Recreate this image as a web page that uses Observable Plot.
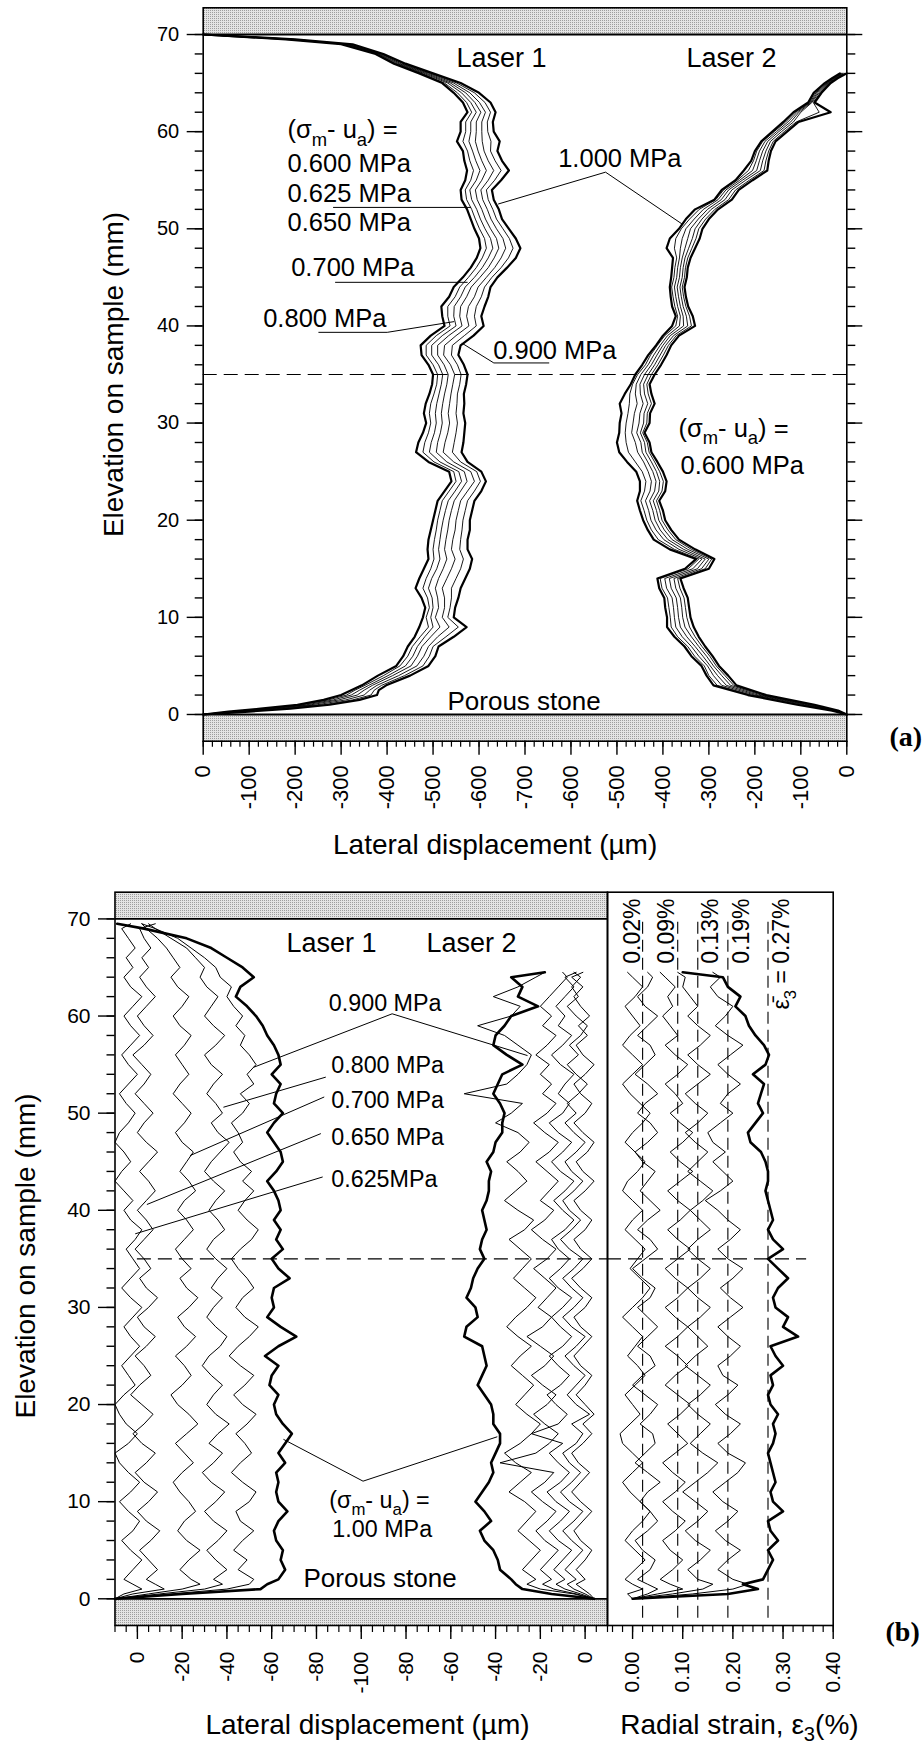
<!DOCTYPE html>
<html>
<head>
<meta charset="utf-8">
<script src="https://cdn.jsdelivr.net/npm/d3@7"></script>
<script src="https://cdn.jsdelivr.net/npm/@observablehq/plot@0.6"></script>
<style>
html, body { margin: 0; padding: 0; background: #fff; }
#chart { position: relative; width: 924px; height: 1748px; background: #fff; overflow: hidden; }
#chart > svg { position: absolute; }
</style>
</head>
<body>
<svg width="0" height="0" style="position:absolute">
  <defs>
    <pattern id="stone" patternUnits="userSpaceOnUse" width="2" height="2">
      <rect width="2" height="2" fill="#e4e4e4"></rect>
      <rect width="1" height="1" fill="#9e9e9e"></rect>
    </pattern>
  </defs>
</svg>
<div id="chart"></div>
<script>
const FONT = "'Liberation Sans', Arial, Helvetica, sans-serif";
const SERIF = "'Liberation Serif', 'Times New Roman', serif";

// ================= DATA =================
// ---- Panel (a): lateral displacement (µm) vs elevation (mm) ----
const pressuresA = ["0.600", "0.625", "0.650", "0.700", "0.800", "0.900", "1.000"];
const elevA1 = [0,0.3,0.6,1,1.5,2,2.5,3,4,5,6,7,8,9,10,11,12,13,14,15,16,17,18,19,20,21,22,23,24,25,26,27,28,29,30,31,32,33,34,35,36,37,38,39,40,41,42,43,44,45,46,47,48,49,50,51,52,53,54,55,56,57,58,59,60,61,62,63,64,65,66,67,68,69,69.5,70];
const a1_0600 = [0,-55,-125,-205,-262,-300,-322,-345,-380,-420,-435,-445,-460,-470,-478,-483,-475,-462,-470,-480,-490,-488,-490,-495,-500,-505,-510,-525,-540,-535,-490,-463,-468,-478,-485,-480,-484,-492,-498,-500,-490,-475,-473,-495,-525,-520,-518,-535,-545,-565,-582,-595,-603,-600,-590,-582,-574,-562,-560,-570,-574,-568,-565,-552,-560,-560,-575,-565,-545,-520,-470,-415,-375,-300,-180,0];
const a1_0625 = [0,-60,-132,-215,-272,-312,-330,-352,-392,-428,-445,-455,-472,-490,-485,-492,-488,-478,-485,-495,-502,-500,-503,-507,-510,-515,-520,-535,-550,-545,-502,-478,-482,-490,-495,-492,-495,-502,-508,-510,-500,-485,-485,-507,-537,-532,-532,-548,-558,-577,-594,-607,-616,-612,-601,-592,-584,-573,-570,-582,-588,-580,-575,-565,-571,-571,-584,-573,-553,-525,-475,-418,-378,-305,-185,0];
const a1_0650 = [0,-65,-140,-225,-283,-322,-340,-360,-402,-440,-456,-466,-482,-500,-495,-500,-498,-490,-497,-508,-515,-512,-515,-518,-522,-527,-533,-548,-562,-556,-515,-492,-496,-503,-507,-505,-508,-513,-518,-521,-512,-497,-497,-520,-550,-545,-546,-560,-570,-590,-607,-620,-630,-625,-613,-603,-595,-584,-580,-594,-602,-593,-586,-578,-582,-582,-594,-582,-562,-532,-480,-422,-381,-310,-190,0];
const a1_0700 = [0,-70,-150,-235,-295,-335,-350,-368,-412,-452,-466,-476,-495,-515,-505,-512,-510,-505,-512,-522,-530,-525,-528,-532,-535,-540,-546,-560,-574,-568,-530,-507,-510,-516,-520,-518,-521,-525,-530,-533,-524,-510,-510,-534,-563,-558,-560,-573,-583,-602,-620,-633,-643,-638,-625,-614,-606,-596,-592,-606,-616,-606,-598,-592,-594,-594,-604,-591,-571,-538,-485,-426,-384,-312,-192,0];
const a1_0800 = [0,-80,-160,-248,-310,-350,-362,-378,-425,-465,-480,-490,-510,-535,-520,-525,-525,-520,-530,-540,-548,-540,-543,-548,-550,-555,-560,-575,-590,-582,-545,-522,-526,-532,-536,-533,-536,-539,-543,-547,-538,-523,-525,-550,-578,-573,-577,-590,-598,-616,-634,-648,-658,-652,-638,-626,-618,-608,-604,-620,-632,-620,-611,-607,-606,-606,-614,-601,-580,-545,-490,-430,-387,-315,-195,0];
const a1_0900 = [0,-90,-175,-262,-325,-365,-372,-388,-438,-478,-492,-500,-528,-555,-532,-537,-540,-540,-550,-560,-566,-558,-560,-563,-565,-570,-575,-590,-603,-595,-560,-542,-546,-550,-553,-550,-552,-553,-558,-561,-553,-540,-542,-568,-594,-590,-594,-605,-612,-628,-648,-664,-674,-666,-652,-638,-630,-620,-616,-634,-648,-635,-625,-626,-619,-618,-625,-613,-590,-552,-495,-435,-390,-320,-198,0];
const a1_1000 = [0,-100,-190,-275,-340,-378,-382,-398,-450,-490,-505,-512,-545,-573,-545,-548,-555,-560,-570,-580,-585,-575,-575,-580,-580,-585,-590,-605,-615,-605,-575,-562,-566,-568,-570,-566,-568,-567,-572,-575,-567,-555,-560,-588,-610,-605,-612,-620,-625,-640,-661,-680,-690,-680,-665,-650,-643,-632,-628,-648,-665,-650,-640,-645,-632,-630,-636,-625,-600,-560,-500,-440,-392,-325,-200,0];

const elevA2 = [0,0.4,1,2,3,4,5,6,7,8,9,10,11,12,13,14,15,16,17,18,19,20,21,22,23,24,25,26,27,28,29,30,31,32,33,34,35,36,37,38,39,40,41,42,43,44,45,46,47,48,49,50,51,52,53,54,55,56,57,58,59,60,61,62,63,64,65,65.5,66];
const a2_0600 = [0,-19,-70,-175,-240,-258,-278,-292,-308,-322,-333,-340,-343,-346,-355,-362,-300,-288,-330,-365,-382,-395,-400,-408,-395,-392,-400,-412,-425,-429,-440,-429,-428,-418,-425,-429,-418,-404,-392,-382,-365,-330,-335,-345,-350,-353,-348,-346,-340,-330,-320,-314,-300,-280,-250,-235,-205,-173,-170,-165,-155,-130,-105,-35,-70,-55,-35,-20,0];
const a2_0625 = [0,-21,-75,-180,-246,-265,-284,-298,-315,-330,-342,-348,-351,-354,-363,-368,-308,-294,-338,-372,-389,-402,-407,-414,-402,-399,-407,-418,-430,-434,-444,-435,-434,-425,-432,-435,-425,-411,-399,-388,-371,-338,-342,-350,-355,-358,-353,-351,-346,-337,-328,-322,-307,-287,-257,-242,-212,-180,-176,-170,-160,-136,-110,-60,-73,-58,-37,-22,-3];
const a2_0650 = [0,-23,-80,-186,-253,-272,-290,-305,-322,-338,-352,-357,-359,-362,-372,-376,-316,-300,-346,-380,-397,-409,-414,-421,-409,-407,-414,-425,-437,-440,-449,-442,-441,-433,-440,-442,-432,-418,-406,-394,-377,-346,-349,-356,-360,-363,-358,-356,-352,-344,-336,-330,-315,-295,-265,-250,-220,-188,-183,-176,-166,-142,-116,-100,-76,-61,-39,-24,-5];
const a2_0700 = [0,-25,-86,-193,-262,-281,-297,-313,-330,-348,-362,-366,-368,-371,-382,-386,-325,-308,-355,-389,-406,-417,-422,-429,-418,-415,-422,-433,-445,-448,-457,-452,-450,-443,-449,-450,-440,-425,-413,-400,-384,-355,-356,-362,-366,-369,-364,-362,-358,-352,-346,-340,-323,-303,-273,-257,-227,-196,-190,-183,-172,-148,-122,-104,-78,-64,-41,-26,-8];
const a2_0800 = [0,-27,-92,-200,-272,-290,-303,-322,-338,-358,-372,-375,-377,-380,-392,-396,-335,-315,-365,-398,-415,-426,-431,-438,-428,-425,-432,-442,-455,-460,-468,-465,-462,-456,-460,-458,-448,-432,-420,-406,-390,-364,-362,-368,-372,-375,-370,-368,-364,-362,-358,-350,-332,-312,-280,-263,-233,-205,-197,-190,-178,-153,-128,-108,-80,-67,-43,-28,-10];
const a2_0900 = [0,-30,-100,-208,-282,-300,-310,-331,-346,-368,-382,-384,-387,-390,-402,-406,-345,-322,-375,-410,-425,-435,-441,-448,-440,-437,-445,-460,-475,-480,-482,-480,-476,-473,-472,-466,-455,-438,-427,-412,-396,-372,-368,-374,-378,-381,-376,-374,-370,-375,-372,-360,-342,-321,-285,-268,-238,-214,-203,-196,-183,-158,-133,-112,-82,-70,-46,-30,-12];
const a2_1000 = [0,-32,-108,-215,-290,-305,-316,-338,-353,-375,-391,-391,-395,-397,-408,-412,-352,-328,-385,-420,-433,-443,-450,-456,-450,-450,-458,-478,-495,-500,-495,-494,-490,-494,-483,-470,-460,-445,-432,-415,-400,-380,-372,-380,-383,-385,-382,-380,-378,-392,-385,-365,-350,-330,-288,-272,-242,-224,-208,-200,-186,-162,-138,-116,-84,-72,-48,-32,-15];

// ---- Panel (b): lateral displacement (µm) and radial strain (%) ----
const pressuresB = ["0.625", "0.650", "0.700", "0.800", "0.900", "1.00"];
const elevB1 = [0,0.5,1,1.5,2,3,4,5,6,7,8,9,10,11,12,13,14,15,16,17,18,19,20,21,22,23,24,25,26,27,28,29,30,31,32,33,34,35,36,37,38,39,40,41,42,43,44,45,46,47,48,49,50,51,52,53,54,55,56,57,58,59,60,61,62,63,64,65,66,67,68,69,69.5];
const b1_0625 = [10,6,-2,2,6,2,-2,3,7,2,-1,4,8,3,-1,4,8,10,4,0,5,8,10,6,1,4,7,3,-1,3,6,2,-2,3,7,3,-1,2,5,1,-2,3,6,2,6,10,7,3,6,10,8,4,1,5,8,4,0,4,7,3,-1,3,6,2,-2,3,6,2,5,1,4,7,3];
const b1_0650 = [10,2,-12,-8,-4,-9,-5,-1,-6,-10,-4,0,-5,-9,-3,1,-4,-8,-2,2,-3,-7,-2,3,-1,-6,-3,1,-4,-8,-3,0,-5,-9,-4,-1,-6,-3,1,-3,-7,-4,0,-4,-8,-5,-1,-5,-9,-4,0,-3,-7,-3,1,-3,-6,-2,2,-3,-7,-3,0,-4,-8,-4,-1,-5,-2,-6,-3,-1,-8];
const b1_0700 = [10,-5,-20,-28,-24,-19,-23,-28,-22,-18,-21,-26,-23,-19,-16,-20,-25,-21,-17,-22,-27,-23,-18,-15,-20,-24,-21,-17,-22,-26,-21,-18,-23,-27,-22,-19,-24,-20,-17,-21,-25,-22,-18,-21,-26,-23,-19,-22,-25,-20,-17,-21,-24,-20,-16,-19,-23,-20,-17,-21,-24,-19,-16,-20,-23,-18,-15,-19,-16,-13,-9,-4,-2];
const b1_0800 = [10,-10,-30,-38,-34,-40,-35,-31,-36,-40,-34,-30,-35,-39,-33,-29,-34,-38,-32,-36,-41,-35,-31,-34,-38,-33,-29,-32,-37,-40,-35,-31,-34,-38,-33,-36,-40,-35,-31,-34,-39,-36,-32,-35,-39,-34,-30,-33,-37,-41,-36,-33,-38,-35,-31,-34,-38,-33,-30,-35,-39,-34,-30,-33,-36,-31,-28,-30,-26,-22,-15,-8,-5];
const b1_0900 = [10,-15,-40,-50,-52,-45,-49,-43,-47,-52,-46,-44,-50,-53,-47,-42,-46,-51,-48,-44,-49,-53,-47,-43,-48,-52,-46,-41,-45,-50,-54,-48,-44,-47,-52,-49,-45,-42,-46,-51,-54,-49,-45,-48,-52,-47,-51,-46,-43,-47,-45,-42,-47,-50,-46,-52,-49,-53,-50,-46,-48,-44,-47,-43,-40,-42,-37,-35,-30,-24,-18,-8,-2];
const b1_1000 = [10,-20,-55,-58,-63,-66,-64,-65,-62,-61,-63,-67,-63,-62,-63,-62,-66,-63,-66,-69,-65,-62,-61,-63,-59,-60,-63,-57,-63,-71,-64,-58,-61,-60,-61,-68,-63,-60,-65,-62,-64,-61,-64,-63,-61,-58,-62,-65,-64,-61,-58,-61,-65,-61,-62,-64,-60,-64,-63,-61,-58,-56,-53,-49,-44,-46,-52,-47,-40,-33,-22,-3,9];

const elevB2 = [0,0.5,1,1.5,2,3,4,5,6,7,8,9,10,11,12,13,14,15,16,17,18,19,20,21,22,23,24,25,26,27,28,29,30,31,32,33,34,35,36,37,38,39,40,41,42,43,44,45,46,47,48,49,50,51,52,53,54,55,56,57,58,59,60,61,62,63,64,64.5];
const b2_0625 = [4,2,-1,-4,0,-4,0,3,-2,-5,-1,3,-2,-6,-2,2,-3,-6,-1,3,-1,4,0,-4,0,3,-2,-5,-1,3,-2,-5,0,3,-2,-6,-1,3,-2,-5,0,3,-2,-5,0,4,-1,-4,1,4,-1,-5,0,3,-2,-5,0,4,-1,-4,1,-3,2,-2,-5,-1,-6,-1];
const b2_0650 = [4,0,-5,-8,-4,-9,-5,-1,-6,-10,-5,-1,-7,-11,-6,-2,-7,-10,-4,-1,-6,2,-4,-8,-4,0,-5,-9,-4,0,-6,-10,-5,-1,-6,-10,-5,-1,-7,-11,-6,-2,-7,-10,-5,-1,-6,-9,-4,0,-5,-9,-4,-8,-3,1,-4,-8,-3,-7,-2,1,-4,-8,-3,-6,-2,-5];
const b2_0700 = [4,-2,-9,-13,-9,-14,-10,-6,-12,-16,-11,-7,-13,-17,-11,-7,-12,-16,-10,-24,-12,-8,-13,-17,-11,-7,-12,-16,-10,-6,-11,-15,-10,-6,-12,-16,-11,-7,-12,-15,-9,-5,-10,-14,-9,-5,-11,-15,-10,-6,-12,-16,-10,-7,-12,-9,-5,-11,-15,-10,-6,-12,-9,-13,-9,-5,-9,-4];
const b2_0800 = [4,-4,-14,-19,-15,-20,-16,-12,-18,-22,-17,-13,-19,-24,-18,-14,-38,-22,-16,-12,-18,-23,-17,-13,-19,-24,-18,-14,-20,-26,-19,-15,-21,-17,-13,-18,-23,-17,-13,-19,-24,-18,-14,-20,-16,-12,-17,-22,-16,-12,-18,-23,-17,-13,-19,-15,-20,-16,-22,-17,-13,-19,-15,-20,-16,-12,-8,-10];
const b2_0900 = [4,-5,-20,-26,-22,-28,-24,-20,-25,-30,-26,-22,-27,-34,-29,-24,-31,-36,-29,-24,-20,-26,-31,-27,-23,-28,-33,-29,-24,-30,-35,-31,-26,-22,-27,-32,-28,-24,-29,-34,-27,-23,-30,-36,-31,-26,-30,-35,-29,-25,-30,-40,-33,-28,-54,-35,-30,-26,-24,-30,-36,-48,-33,-29,-41,-30,-22,-18];
const b2_1000 = [4,-15,-28,-31,-33,-38,-39,-41,-45,-47,-42,-45,-49,-46,-43,-41,-42,-40,-38,-38,-41,-41,-42,-45,-48,-46,-44,-45,-46,-54,-53,-48,-49,-53,-51,-50,-48,-45,-47,-46,-44,-45,-46,-44,-43,-43,-42,-44,-41,-40,-37,-37,-36,-38,-41,-39,-37,-28,-35,-41,-40,-36,-33,-21,-30,-28,-33,-18];

const strain_0625 = [0,-0.01,0.02,0.0,-0.015,0.005,0.025,0.005,-0.015,0.0,0.02,0.035,0.015,-0.005,-0.02,0.0,0.02,0.0,-0.02,-0.025,-0.005,0.015,0.0,-0.015,0.005,0.025,0.01,-0.01,0.005,0.02,0.0,-0.02,0.0,0.02,0.035,0.015,-0.005,0.01,0.025,0.005,-0.015,0.0,0.02,0.0,-0.02,-0.01,0.01,0.025,0.005,-0.015,0.0,0.02,0.035,0.015,-0.005,-0.02,0.0,0.02,0.0,-0.02,-0.005,0.015,0.0,-0.015,0.005,0.02,0.0,-0.01];
const strain_0650 = [0,0.03,0.05,0.03,0.01,0.035,0.045,0.02,0.005,0.03,0.05,0.035,0.015,0.03,0.055,0.03,0.005,0.025,0.045,0.04,0.015,0.035,0.05,0.025,0.0,0.02,0.045,0.035,0.01,0.03,0.05,0.03,0.01,0.035,0.045,0.02,0.0,0.025,0.05,0.035,0.01,0.03,0.055,0.035,0.015,0.03,0.045,0.02,0.005,0.03,0.05,0.035,0.01,0.025,0.05,0.03,0.005,0.025,0.045,0.035,0.01,0.03,0.05,0.025,0.01,0.03,0.04,0.03];
const strain_0700 = [0,0.05,0.1,0.075,0.055,0.08,0.1,0.075,0.06,0.085,0.105,0.08,0.06,0.085,0.105,0.08,0.06,0.085,0.11,0.09,0.07,0.095,0.115,0.09,0.065,0.085,0.11,0.09,0.065,0.09,0.11,0.085,0.065,0.09,0.11,0.085,0.065,0.09,0.115,0.09,0.07,0.095,0.115,0.09,0.07,0.095,0.12,0.095,0.075,0.1,0.12,0.095,0.075,0.1,0.085,0.065,0.09,0.11,0.085,0.065,0.09,0.075,0.06,0.08,0.07,0.085,0.065,0.055];
const strain_0800 = [0,0.08,0.14,0.16,0.13,0.11,0.135,0.155,0.125,0.105,0.13,0.15,0.125,0.1,0.125,0.15,0.17,0.14,0.115,0.135,0.155,0.13,0.11,0.135,0.155,0.13,0.105,0.125,0.15,0.13,0.11,0.135,0.155,0.13,0.11,0.135,0.155,0.13,0.11,0.13,0.155,0.135,0.115,0.14,0.16,0.135,0.11,0.13,0.15,0.125,0.105,0.13,0.15,0.125,0.105,0.13,0.155,0.13,0.11,0.135,0.155,0.13,0.11,0.13,0.115,0.1,0.105,0.09];
const strain_0900 = [0,0.12,0.2,0.23,0.2,0.17,0.19,0.215,0.185,0.165,0.19,0.21,0.18,0.16,0.185,0.21,0.225,0.19,0.17,0.195,0.215,0.185,0.165,0.19,0.21,0.18,0.17,0.195,0.215,0.19,0.17,0.195,0.22,0.195,0.175,0.2,0.22,0.19,0.17,0.195,0.215,0.19,0.17,0.145,0.175,0.2,0.18,0.16,0.185,0.16,0.15,0.175,0.2,0.175,0.19,0.215,0.19,0.17,0.195,0.22,0.19,0.165,0.185,0.2,0.17,0.155,0.175,0.16];
const strain_1000 = [0,0.19,0.25,0.22,0.26,0.27,0.28,0.27,0.29,0.275,0.27,0.3,0.28,0.275,0.285,0.28,0.275,0.27,0.28,0.285,0.28,0.29,0.275,0.27,0.28,0.275,0.3,0.285,0.275,0.33,0.3,0.31,0.285,0.28,0.29,0.31,0.29,0.27,0.3,0.28,0.27,0.28,0.275,0.27,0.265,0.27,0.27,0.265,0.256,0.235,0.23,0.245,0.26,0.25,0.256,0.262,0.24,0.265,0.272,0.262,0.245,0.232,0.225,0.205,0.215,0.19,0.18,0.10];
const strainMeans = [0.02, 0.09, 0.13, 0.19, 0.27];

// ---- tick labels ----
const yTickLabels = [0, 10, 20, 30, 40, 50, 60, 70];
const xTickLabelsA = [0,-100,-200,-300,-400,-500,-600,-700,-600,-500,-400,-300,-200,-100,0];
const xTickLabelsB = [0,-20,-40,-60,-80,-100,-80,-60,-40,-20,0];
const strainTickLabels = ["0.00", "0.10", "0.20", "0.30", "0.40"];

// ---- annotations (text & leader lines, in data units) ----
const labelsA = [
  {t: "(σ_m- u_a) =", u: 183.4, e: 59.3},
  {t: "0.600 MPa", u: 183.4, e: 55.81},
  {t: "0.625 MPa", u: 183.4, e: 52.72},
  {t: "0.650 MPa", u: 183.4, e: 49.74},
  {t: "0.700 MPa", u: 191.4, e: 45.18},
  {t: "0.800 MPa", u: 130.5, e: 39.86},
  {t: "0.900 MPa", u: 630.8, e: 36.61},
  {t: "1.000 MPa", u: 772.2, e: 56.33},
  {t: "(σ_m- u_a) =", u: 1033.9, e: 28.6},
  {t: "0.600 MPa", u: 1038.3, e: 24.77}
];
const laserLabelsA = [{t: "Laser 1", u: 551, e: 66.62}, {t: "Laser 2", u: 1051.3, e: 66.62}];
const leadersA = [
  ["0.625", [[283.4, 52.2], [581.5, 52.2]]],
  ["1.000", [[642.4, 52.56], [875.2, 55.83], [1040.5, 50.53]]],
  ["0.700", [[287.8, 44.49], [574.3, 44.49]]],
  ["0.800", [[251.5, 39.34], [400.3, 39.34], [545.1, 40.44]]],
  ["0.900", [[563.4, 38.21], [632.2, 36.19], [751.8, 36.19]]]
];
const labelsB = [
  {t: "0.900 MPa", u: 85.5, e: 60.49},
  {t: "0.800 MPa", u: 86.6, e: 54.12},
  {t: "0.700 MPa", u: 86.6, e: 50.56},
  {t: "0.650 MPa", u: 86.6, e: 46.68},
  {t: "0.625MPa", u: 86.6, e: 42.39},
  {t: "(σ_m- u_a) =", u: 85.7, e: 9.3},
  {t: "1.00 MPa", u: 87.1, e: 6.38}
];
const laserLabelsB = [{t: "Laser 1", u: 66.6, e: 66.56}, {t: "Laser 2", u: 129.1, e: 66.56}];
const leadersB = [
  ["0.900", [[52.0, 54.73], [113.8, 60.23], [174.1, 55.94]]],
  ["0.800", [[38.6, 50.62], [84.0, 53.70]]],
  ["0.700", [[23.7, 45.65], [83.3, 51.65]]],
  ["0.650", [[4.4, 40.61], [81.8, 47.88]]],
  ["0.625", [[-0.8, 37.59], [82.6, 43.42]]],
  ["1.00", [[65.4, 16.40], [100.8, 12.11], [160.6, 16.67]]]
];
const strainLabels = [
  {t: "0.02%", s: 0.0},
  {t: "0.09%", s: 0.068},
  {t: "0.13%", s: 0.155},
  {t: "0.19%", s: 0.218},
  {t: "ε\u0304_3 = 0.27%", s: 0.298}
];

// ================= HELPERS =================
function buildRows(ids, elev, arrays, pos) {
  const rows = [];
  arrays.forEach((vals, k) => {
    const n = Math.min(elev.length, vals.length);
    for (let i = 0; i < n; i++) rows.push({id: ids[k], e: elev[i], u: pos(vals[i])});
  });
  return rows;
}
function leaderRows(list) {
  return list.flatMap(([id, pts]) => pts.map(([u, e]) => ({id, u, e})));
}
function subscripts(svg) {
  svg.querySelectorAll("text").forEach(t => {
    if (t.querySelector("tspan")) return;
    const s = t.textContent;
    if (!s.includes("_")) return;
    const fs = parseFloat(getComputedStyle(t).fontSize) || 20;
    t.textContent = "";
    const parts = s.split(/_(.)/);
    parts.forEach((p, i) => {
      if (!p) return;
      const ts = document.createElementNS("http://www.w3.org/2000/svg", "tspan");
      ts.textContent = p;
      if (i % 2 === 1) { ts.setAttribute("font-size", (fs * 0.72).toFixed(1)); ts.setAttribute("dy", (fs * 0.28).toFixed(1)); }
      else if (i > 0) { ts.setAttribute("dy", (-fs * 0.28).toFixed(1)); }
      t.appendChild(ts);
    });
  });
}
const blank = () => "";
const chart = document.getElementById("chart");

// ================= PANEL (a) =================
const thickA = new Set(["0.600", "1.000"]);
const rowsA = buildRows(pressuresA.map(p => "L1 " + p), elevA1,
    [a1_0600, a1_0625, a1_0650, a1_0700, a1_0800, a1_0900, a1_1000], d => -d)
  .concat(buildRows(pressuresA.map(p => "L2 " + p), elevA2,
    [a2_0600, a2_0625, a2_0650, a2_0700, a2_0800, a2_0900, a2_1000], d => 1400 + d));
const isThickA = r => thickA.has(r.id.slice(3));

const plotA = Plot.plot({
  width: 924, height: 880,
  marginLeft: 202.7, marginRight: 77.7, marginTop: 7.3, marginBottom: 139.3,
  x: {domain: [0, 1400], label: null},
  y: {domain: [-2.75, 72.75], label: null},
  style: {fontFamily: FONT, color: "#000", background: "transparent", overflow: "visible"},
  marks: [
    Plot.rect([{lo: 70, hi: 72.75}, {lo: -2.75, hi: 0}], {x1: 0, x2: 1400, y1: "lo", y2: "hi", fill: "url(#stone)"}),
    Plot.axisY(yTickLabels, {anchor: "left", tickSize: 16, tickPadding: 8, fontSize: 20, strokeWidth: 1.4, label: null}),
    Plot.axisY(d3.range(0, 71, 2), {anchor: "left", tickSize: 8, tickFormat: blank, strokeWidth: 1.4, label: null}),
    Plot.axisY(yTickLabels, {anchor: "right", tickSize: 15, tickFormat: blank, strokeWidth: 1.4, label: null}),
    Plot.axisY(d3.range(0, 71, 2), {anchor: "right", tickSize: 8, tickFormat: blank, strokeWidth: 1.4, label: null}),
    Plot.axisX(d3.range(0, 1401, 100), {anchor: "bottom", tickSize: 14, tickPadding: 10, tickRotate: -90, fontSize: 22,
      tickFormat: d => String(xTickLabelsA[Math.round(d / 100)]), strokeWidth: 1.4, label: null}),
    Plot.axisX(d3.range(0, 1401, 20), {anchor: "bottom", tickSize: 6, tickFormat: blank, strokeWidth: 1.2, label: null}),
    Plot.frame({strokeWidth: 1.6}),
    Plot.ruleY([0, 70], {strokeWidth: 1.8}),
    Plot.ruleY([35], {strokeWidth: 1.2, strokeDasharray: "14,7"}),
    Plot.line(rowsA.filter(r => !isThickA(r)), {x: "u", y: "e", z: "id", stroke: "#000", strokeWidth: 0.9, strokeLinejoin: "round"}),
    Plot.line(rowsA.filter(isThickA), {x: "u", y: "e", z: "id", stroke: "#000", strokeWidth: 2.2, strokeLinejoin: "round"}),
    Plot.line(leaderRows(leadersA), {x: "u", y: "e", z: "id", stroke: "#000", strokeWidth: 1}),
    Plot.text(labelsA, {x: "u", y: "e", text: "t", textAnchor: "start", lineAnchor: "bottom", fontSize: 25.5}),
    Plot.text(laserLabelsA, {x: "u", y: "e", text: "t", textAnchor: "start", lineAnchor: "bottom", fontSize: 27}),
    Plot.text(["Porous stone"], {x: 531.4, y: 0.48, textAnchor: "start", lineAnchor: "bottom", fontSize: 26}),
    Plot.text(["Lateral displacement (µm)"], {x: 635, frameAnchor: "bottom", dy: 112.3, lineAnchor: "bottom", fontSize: 28}),
    Plot.text(["Elevation on sample (mm)"], {y: 35, frameAnchor: "left", dx: -80, rotate: -90, textAnchor: "middle", lineAnchor: "bottom", fontSize: 28}),
    Plot.text(["(a)"], {frameAnchor: "bottom-right", dx: 42.7, dy: 4.3, textAnchor: "start", lineAnchor: "bottom", fontSize: 28, fontWeight: "bold", fontFamily: SERIF})
  ]
});
plotA.style.left = "0px"; plotA.style.top = "0px";
chart.appendChild(plotA);
subscripts(plotA);

// ================= PANEL (b) : lasers =================
const rowsB = buildRows(pressuresB.map(p => "L1 " + p), elevB1,
    [b1_0625, b1_0650, b1_0700, b1_0800, b1_0900, b1_1000], d => -d)
  .concat(buildRows(pressuresB.map(p => "L2 " + p), elevB2,
    [b2_0625, b2_0650, b2_0700, b2_0800, b2_0900, b2_1000], d => 200 + d));
const isThickB = r => r.id.endsWith("1.00");

const plotB = Plot.plot({
  width: 607, height: 868,
  marginLeft: 114.5, marginRight: 0, marginTop: 11.7, marginBottom: 123,
  x: {domain: [-10, 210], label: null},
  y: {domain: [-2.75, 72.75], label: null},
  style: {fontFamily: FONT, color: "#000", background: "transparent", overflow: "visible"},
  marks: [
    Plot.rect([{lo: 70, hi: 72.75}, {lo: -2.75, hi: 0}], {x1: -10, x2: 210, y1: "lo", y2: "hi", fill: "url(#stone)"}),
    Plot.axisY(yTickLabels, {anchor: "left", tickSize: 16.5, tickPadding: 8, fontSize: 21, strokeWidth: 1.4, label: null}),
    Plot.axisY(d3.range(0, 71, 2), {anchor: "left", tickSize: 8, tickFormat: blank, strokeWidth: 1.4, label: null}),
    Plot.axisX(d3.range(0, 201, 20), {anchor: "bottom", tickSize: 14, tickPadding: 12, tickRotate: -90, fontSize: 21,
      tickFormat: d => String(xTickLabelsB[Math.round(d / 20)]), strokeWidth: 1.4, label: null}),
    Plot.axisX(d3.range(-10, 211, 5), {anchor: "bottom", tickSize: 7, tickFormat: blank, strokeWidth: 1.2, label: null}),
    Plot.frame({strokeWidth: 1.6}),
    Plot.ruleY([0, 70], {strokeWidth: 1.8}),
    Plot.ruleY([35], {x1: 0, x2: 210, strokeWidth: 1.2, strokeDasharray: "14,7"}),
    Plot.line(rowsB.filter(r => !isThickB(r)), {x: "u", y: "e", z: "id", stroke: "#000", strokeWidth: 1, strokeLinejoin: "round"}),
    Plot.line(rowsB.filter(isThickB), {x: "u", y: "e", z: "id", stroke: "#000", strokeWidth: 2.6, strokeLinejoin: "round"}),
    Plot.line(leaderRows(leadersB), {x: "u", y: "e", z: "id", stroke: "#000", strokeWidth: 1}),
    Plot.text(labelsB, {x: "u", y: "e", text: "t", textAnchor: "start", lineAnchor: "bottom", fontSize: 23.3}),
    Plot.text(laserLabelsB, {x: "u", y: "e", text: "t", textAnchor: "start", lineAnchor: "bottom", fontSize: 27}),
    Plot.text(["Porous stone"], {x: 74.2, y: 1.2, textAnchor: "start", lineAnchor: "bottom", fontSize: 26}),
    Plot.text(["Lateral displacement (µm)"], {x: 102.8, frameAnchor: "bottom", dy: 108, lineAnchor: "bottom", fontSize: 28}),
    Plot.text(["Elevation on sample (mm)"], {y: 35.3, frameAnchor: "left", dx: -80, rotate: -90, textAnchor: "middle", lineAnchor: "bottom", fontSize: 28})
  ]
});
plotB.style.left = "0px"; plotB.style.top = "880px";
chart.appendChild(plotB);
subscripts(plotB);

// ================= PANEL (b) : radial strain =================
const rowsS = buildRows(pressuresB.map(p => "S " + p), elevB2,
  [strain_0625, strain_0650, strain_0700, strain_0800, strain_0900, strain_1000], v => v);

const plotS = Plot.plot({
  width: 317, height: 868,
  marginLeft: 0, marginRight: 91.3, marginTop: 11.7, marginBottom: 123,
  x: {domain: [-0.05, 0.40], label: null},
  y: {domain: [-2.75, 72.75], label: null, axis: null},
  style: {fontFamily: FONT, color: "#000", background: "transparent", overflow: "visible"},
  marks: [
    Plot.axisX([0, 0.1, 0.2, 0.3, 0.4], {anchor: "bottom", tickSize: 14, tickPadding: 12, tickRotate: -90, fontSize: 21,
      tickFormat: d => strainTickLabels[Math.round(d * 10)], strokeWidth: 1.4, label: null}),
    Plot.axisX(d3.range(-4, 41, 2).map(v => v / 100), {anchor: "bottom", tickSize: 7, tickFormat: blank, strokeWidth: 1.2, label: null}),
    Plot.frame({strokeWidth: 1.6}),
    Plot.ruleY([35], {x1: -0.05, x2: 0.347, strokeWidth: 1.2, strokeDasharray: "14,7"}),
    Plot.ruleX(strainMeans, {y1: -2, y2: 70, strokeWidth: 1.1, strokeDasharray: "12,6"}),
    Plot.line(rowsS.filter(r => !isThickB(r)), {x: "u", y: "e", z: "id", stroke: "#000", strokeWidth: 1, strokeLinejoin: "round"}),
    Plot.line(rowsS.filter(isThickB), {x: "u", y: "e", z: "id", stroke: "#000", strokeWidth: 2.6, strokeLinejoin: "round"}),
    Plot.text(strainLabels, {x: "s", y: 72.1, text: "t", rotate: -90, textAnchor: "end", lineAnchor: "middle", fontSize: 23}),
    Plot.text(["Radial strain, ε_3(%)"], {x: 0.213, frameAnchor: "bottom", dy: 108, lineAnchor: "bottom", fontSize: 28}),
    Plot.text(["(b)"], {frameAnchor: "bottom-right", dx: 52.3, dy: 15, textAnchor: "start", lineAnchor: "bottom", fontSize: 28, fontWeight: "bold", fontFamily: SERIF})
  ]
});
plotS.style.left = "607px"; plotS.style.top = "880px";
chart.appendChild(plotS);
subscripts(plotS);
</script>
</body>
</html>
